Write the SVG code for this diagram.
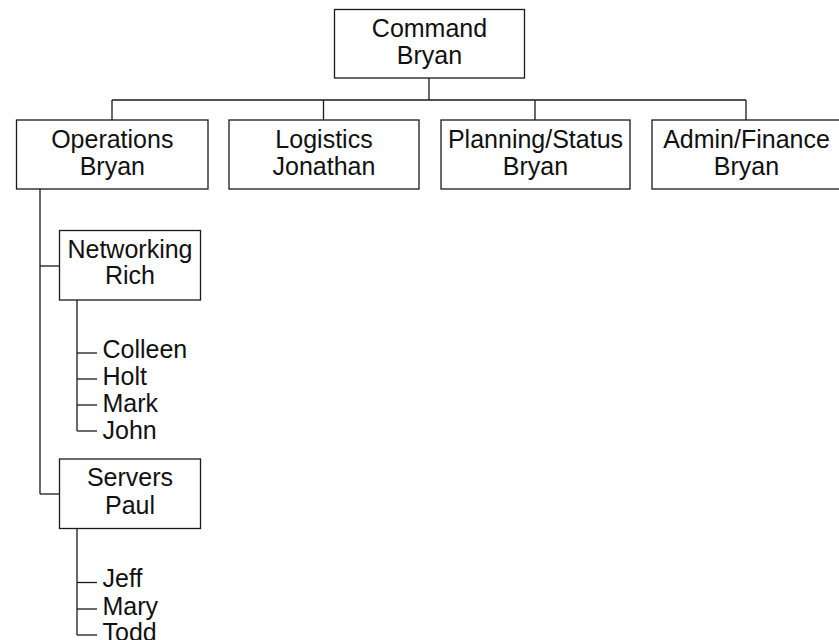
<svg xmlns="http://www.w3.org/2000/svg" width="839" height="640" viewBox="0 0 839 640">
<style>
rect.box{fill:#fff;stroke:#1a1a1a;stroke-width:1.3}
.c line{stroke:#1a1a1a;stroke-width:1.3;fill:none}
text{font-family:"Liberation Sans",Arial,Helvetica,sans-serif;font-size:25px;fill:#111}
.m{text-anchor:middle}
</style>
<rect width="839" height="640" fill="#fff"/>
<g class="c" id="connectors">
<line x1="429" y1="78" x2="429" y2="100"/>
<line x1="112" y1="100" x2="746" y2="100"/>
<line x1="112" y1="100" x2="112" y2="120"/>
<line x1="323.5" y1="100" x2="323.5" y2="120"/>
<line x1="535" y1="100" x2="535" y2="120"/>
<line x1="746" y1="100" x2="746" y2="120"/>
<line x1="40" y1="189" x2="40" y2="494"/>
<line x1="40" y1="266" x2="60" y2="266"/>
<line x1="40" y1="494" x2="60" y2="494"/>
<line x1="77" y1="300" x2="77" y2="431"/>
<line x1="77" y1="353" x2="97" y2="353"/>
<line x1="77" y1="379" x2="97" y2="379"/>
<line x1="77" y1="405" x2="97" y2="405"/>
<line x1="77" y1="431" x2="97" y2="431"/>
<line x1="77" y1="529" x2="77" y2="635"/>
<line x1="77" y1="582.5" x2="97" y2="582.5"/>
<line x1="77" y1="609" x2="97" y2="609"/>
<line x1="77" y1="635" x2="97" y2="635"/>
</g>
<g id="command"><rect class="box" x="334.5" y="9.5" width="190" height="68.5"/><text class="m" x="429.5" y="37">Command</text><text class="m" x="429.5" y="63.5">Bryan</text></g>
<g id="operations"><rect class="box" x="16.5" y="120" width="191.5" height="69"/><text class="m" x="112.3" y="148.3">Operations</text><text class="m" x="112.3" y="174.5">Bryan</text></g>
<g id="logistics"><rect class="box" x="229" y="120" width="190" height="69"/><text class="m" x="324" y="148.3">Logistics</text><text class="m" x="324" y="174.5">Jonathan</text></g>
<g id="planning"><rect class="box" x="441" y="120" width="189" height="69"/><text class="m" x="535.5" y="148.3">Planning/Status</text><text class="m" x="535.5" y="174.5">Bryan</text></g>
<g id="admin"><rect class="box" x="652" y="120" width="189" height="69"/><text class="m" x="746.5" y="148.3">Admin/Finance</text><text class="m" x="746.5" y="174.5">Bryan</text></g>
<g id="networking"><rect class="box" x="59.5" y="230.5" width="141" height="69.5"/><text class="m" x="130" y="258.3">Networking</text><text class="m" x="130" y="284">Rich</text></g>
<g id="servers"><rect class="box" x="59.5" y="459" width="141" height="69.5"/><text class="m" x="130" y="485.5">Servers</text><text class="m" x="130" y="513.5">Paul</text></g>
<g id="networking-members"><text x="102.5" y="357.5">Colleen</text><text x="102.5" y="384.5">Holt</text><text x="102.5" y="411.5">Mark</text><text x="102.5" y="438.5">John</text></g>
<g id="servers-members"><text x="102.5" y="587">Jeff</text><text x="102.5" y="614.5">Mary</text><text x="102.5" y="641">Todd</text></g>
</svg>
